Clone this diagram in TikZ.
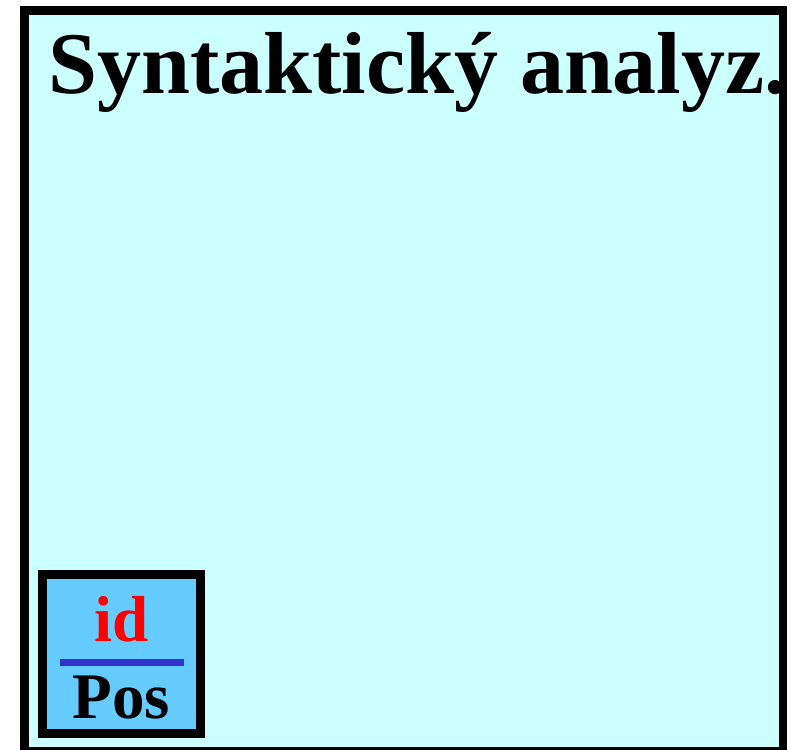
\documentclass[tikz,border=0pt]{standalone}
\usepackage{fontspec}
\setmainfont{Liberation Serif}
\usetikzlibrary{positioning}
\definecolor{paleCyan}{HTML}{CCFFFF}
\definecolor{tokBlue}{HTML}{66CCFF}
\definecolor{barBlue}{HTML}{3333CC}
\tikzset{
  phasebox/.style={draw=black,line width=8.5pt,fill=paleCyan,inner sep=0pt},
  tokbox/.style={draw=black,line width=9pt,fill=tokBlue,inner sep=0pt,
    minimum width=158.7pt,minimum height=158.5pt},
  ttl/.style={inner sep=0pt,font=\fontsize{88}{88}\selectfont\bfseries},
  toktxt/.style={inner sep=0pt,font=\fontsize{65}{65}\selectfont\bfseries},
  fbar/.style={draw=barBlue,line width=7pt},
}
\begin{document}
\begin{tikzpicture}[x=1pt,y=-1pt]
  \useasboundingbox (0,0) rectangle (791,749);
  % syntax analyser phase
  \node[phasebox,minimum width=758.5pt,minimum height=740.5pt] (parser) at (403.75,380.75) {};
  \node[ttl,anchor=base west] (title) at (48,94) {Syntaktický analyz.};
  % token id / Pos
  \node[tokbox] (tok) at (121.4,653.75) {};
  \node[toktxt,text=red,anchor=base] (idlbl) at (121.4,641) {id};
  \node[toktxt,anchor=base] (poslbl) at (121.4,718) {Pos};
  \coordinate (barL) at (60,662.5);
  \coordinate (barR) at (184,662.5);
  \draw[fbar] (barL) -- (barR);
\end{tikzpicture}
\end{document}
